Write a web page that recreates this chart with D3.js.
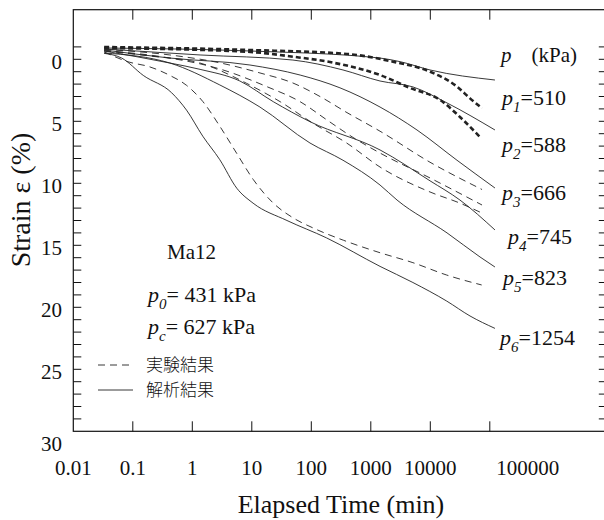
<!DOCTYPE html>
<html>
<head>
<meta charset="utf-8">
<script src="https://cdn.jsdelivr.net/npm/d3@7"></script>
<style>
  body { margin: 0; background: #fff; }
  svg { display: block; }
</style>
</head>
<body>
<div id="chart"></div>
<script>
// [elapsed time (min), strain (%)]
const p1Sim = [[0.033,-0.91],[9.3,-0.67],[1430,-0.1],[3100,0.19],[9890,0.86],[122000,1.67]];
const p1Exp = [[0.033,-0.99],[9.3,-0.75],[398,-0.43],[2360,0.19],[9890,1.0],[28100,2.2],[46500,3.15],[74000,3.95]];
const p2Sim = [[0.033,-0.83],[1.35,-0.35],[49,0.06],[341,0.86],[1430,1.75],[5120,2.23],[19100,3.52],[122000,5.7]];
const p2Exp = [[0.033,-0.91],[8.3,-0.61],[49,-0.21],[232,0.27],[1430,1.27],[4560,2.31],[14600,3.28],[31500,4.65],[68400,6.27]];
const p3Sim = [[0.033,-0.75],[0.42,-0.1],[9.3,0.46],[65,1.27],[303,2.3],[1430,3.85],[5970,5.7],[28100,8.14],[122000,10.38]];
const p3Exp = [[0.033,-0.8],[0.42,-0.35],[3,0.3],[13.7,1.1],[49,1.91],[140,3.0],[398,4.3],[1430,5.8],[9890,8.3],[74000,10.5]];
const p4Sim = [[0.033,-0.67],[0.42,0.3],[1.35,0.81],[6.3,1.75],[23,3.42],[95,5.03],[1430,7.31],[9890,9.8],[31500,11.35],[122000,13.76]];
const p4Exp = [[0.033,-0.7],[0.42,-0.1],[3,0.8],[18,2.21],[65,3.42],[184,4.9],[502,6.3],[1430,7.56],[9890,9.57],[74000,11.75]];
const p5Sim = [[0.033,-0.51],[0.42,0.3],[2.9,2.07],[13.7,3.85],[95,6.75],[341,8.14],[1430,10.14],[2760,11.35],[19100,14.0],[68400,15.94],[122000,16.75]];
const p5Exp = [[0.033,-0.67],[0.19,-0.27],[1.35,0.3],[4.3,1.27],[8.2,1.94],[30,3.42],[107,5.16],[398,6.77],[1430,8.69],[9890,10.7],[31500,11.6],[74000,12.4]];
const p6Sim = [[0.033,-0.48],[0.065,-0.1],[0.15,1.3],[0.45,2.7],[0.8,4.1],[1.5,6.2],[2.9,8.1],[5.6,10.4],[10.5,11.6],[39,13.0],[180,14.4],[1430,16.7],[5100,18.0],[18900,19.5],[46500,20.7],[122000,21.7]];
const p6Exp = [[0.033,-0.6],[0.083,0.2],[0.19,0.6],[0.42,1.3],[0.8,2.1],[1.5,3.4],[2.9,5.4],[5.6,7.6],[10.6,9.7],[23,11.6],[50,12.8],[107,13.6],[350,14.6],[1430,15.6],[5100,16.4],[18900,17.4],[73000,18.2]];

const xTicks = [0.01, 0.1, 1, 10, 100, 1000, 10000, 100000];
const xTickLabels = ["0.01", "0.1", "1", "10", "100", "1000", "10000", "100000"];
const yLabelTicks = [0, 5, 10, 15, 20, 25, 30];
const pressureLabels = [["1", "510"], ["2", "588"], ["3", "666"], ["4", "745"], ["5", "823"], ["6", "1254"]];

const serif = '"Liberation Serif", "Times New Roman", "DejaVu Serif", serif';
const cjk = '"Noto Sans CJK JP", "Noto Sans CJK SC", sans-serif';

const W = 604, H = 520;
const svg = d3.select("#chart").append("svg")
    .attr("width", W)
    .attr("height", H)
    .style("font-family", serif);

const x = d3.scaleLog().domain([0.01, 1e7]).range([73.3, 608.8]);
const y = d3.scaleLinear().domain([-4, 30]).range([9.7, 431.3]);

const plotL = x(0.01), plotR = x(1e7), plotT = y(-4), plotB = y(30);

// helper so every text gets the serif face explicitly
function txt(sel) {
    return sel.append("text").attr("font-family", serif).attr("fill", "#111");
}

// frame
svg.append("rect")
    .attr("x", plotL).attr("y", plotT)
    .attr("width", plotR - plotL).attr("height", plotB - plotT)
    .attr("fill", "none").attr("stroke", "#111").attr("stroke-width", 1.2);

// x ticks (bottom and top, inward)
const innerTicks = xTicks.slice(1);
svg.append("g").selectAll("line").data(innerTicks).enter().append("line")
    .attr("x1", d => x(d)).attr("x2", d => x(d))
    .attr("y1", plotB).attr("y2", plotB - 10)
    .attr("stroke", "#111").attr("stroke-width", 1);
svg.append("g").selectAll("line").data(innerTicks).enter().append("line")
    .attr("x1", d => x(d)).attr("x2", d => x(d))
    .attr("y1", plotT).attr("y2", plotT + 10)
    .attr("stroke", "#111").attr("stroke-width", 1);

svg.append("g").selectAll("text").data(xTicks).enter().append("text")
    .attr("font-family", serif).attr("fill", "#111")
    .attr("x", (d, i) => x(d) + (i === xTicks.length - 1 ? 38 : 0))
    .attr("y", 475)
    .attr("text-anchor", "middle")
    .attr("font-size", 21)
    .text((d, i) => xTickLabels[i]);

// y ticks (left and right, inward), every 1 %
const yTicks = d3.range(-1, 30);
svg.append("g").selectAll("line").data(yTicks).enter().append("line")
    .attr("x1", plotL).attr("x2", plotL + 8)
    .attr("y1", d => y(d)).attr("y2", d => y(d))
    .attr("stroke", "#111").attr("stroke-width", 1);
svg.append("g").selectAll("line").data(yTicks).enter().append("line")
    .attr("x1", plotR).attr("x2", plotR - 10)
    .attr("y1", d => y(d)).attr("y2", d => y(d))
    .attr("stroke", "#111").attr("stroke-width", 1);

svg.append("g").selectAll("text").data(yLabelTicks).enter().append("text")
    .attr("font-family", serif).attr("fill", "#111")
    .attr("x", 62)
    .attr("y", d => y(d) + (d === 30 ? 12 : 2))
    .attr("dy", "0.35em")
    .attr("text-anchor", "end")
    .attr("font-size", 21)
    .text(d => d);

// axis titles
txt(svg).attr("x", 341).attr("y", 513)
    .attr("text-anchor", "middle")
    .attr("font-size", 26)
    .text("Elapsed Time (min)");

txt(svg).attr("transform", "translate(30,200) rotate(-90)")
    .attr("text-anchor", "middle")
    .attr("font-size", 28)
    .text("Strain ε (%)");

// curves
const line = d3.line()
    .x(d => x(d[0]))
    .y(d => y(d[1]))
    .curve(d3.curveMonotoneX);

const sims = [p1Sim, p2Sim, p3Sim, p4Sim, p5Sim, p6Sim];
const exps = [p1Exp, p2Exp, p3Exp, p4Exp, p5Exp, p6Exp];

sims.forEach(s => {
    svg.append("path").datum(s)
        .attr("fill", "none").attr("stroke", "#222").attr("stroke-width", 0.9)
        .attr("d", line);
});

exps.forEach((s, i) => {
    const heavy = i < 2;
    svg.append("path").datum(s)
        .attr("fill", "none").attr("stroke", "#222")
        .attr("stroke-width", heavy ? 2.6 : 0.9)
        .attr("stroke-dasharray", heavy ? "5,3" : "7,5")
        .attr("d", line);
});

// p with italic subscript
function pLabel(px, py, sub, rest) {
    const t = txt(svg).attr("x", px).attr("y", py).attr("font-size", 22);
    t.append("tspan").attr("font-style", "italic").text("p");
    t.append("tspan").attr("font-style", "italic").attr("font-size", 15).attr("dy", 7).text(sub);
    t.append("tspan").attr("dy", -7).text(rest);
}

const head = txt(svg).attr("x", 501).attr("y", 62).attr("font-size", 21);
head.append("tspan").attr("font-style", "italic").text("p");
head.append("tspan").attr("dx", 20).text("(kPa)");

const labelPos = [[502, 105], [502, 152], [502, 200], [508, 244], [503, 285], [500, 345]];
pressureLabels.forEach((d, i) => pLabel(labelPos[i][0], labelPos[i][1], d[0], "=" + d[1]));

// sample annotation
txt(svg).attr("x", 167).attr("y", 259).attr("font-size", 21).text("Ma12");
pLabel(148, 302, "0", "= 431 kPa");
pLabel(148, 334, "c", "= 627 kPa");

// legend
svg.append("line").attr("x1", 98).attr("x2", 133).attr("y1", 365).attr("y2", 365)
    .attr("stroke", "#222").attr("stroke-width", 0.9).attr("stroke-dasharray", "7,5");
svg.append("line").attr("x1", 98).attr("x2", 133).attr("y1", 390).attr("y2", 390)
    .attr("stroke", "#222").attr("stroke-width", 0.9);
svg.append("text").attr("x", 146).attr("y", 371).attr("font-family", cjk).attr("font-size", 17)
    .attr("font-weight", 300).attr("fill", "#111").text("実験結果");
svg.append("text").attr("x", 146).attr("y", 396).attr("font-family", cjk).attr("font-size", 17)
    .attr("font-weight", 300).attr("fill", "#111").text("解析結果");
</script>
</body>
</html>
